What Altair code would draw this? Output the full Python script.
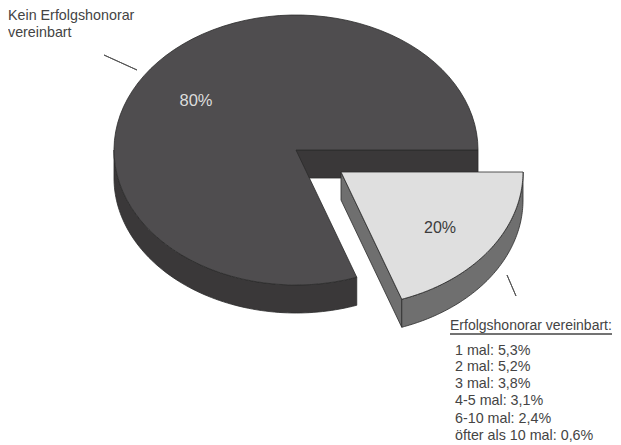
import numpy as np
import pandas as pd
import altair as alt

# data
shares = [80, 20]
pct_labels = ["80%", "20%"]
main_label = ["Kein Erfolgshonorar", "vereinbart"]
detail_title = "Erfolgshonorar vereinbart:"
detail_labels = ["1 mal: 5,3%", "2 mal: 5,2%", "3 mal: 3,8%", "4-5 mal: 3,1%",
                 "6-10 mal: 2,4%", "öfter als 10 mal: 0,6%"]

W, H = 605, 437
OFF = 8
cx, cy, rx, ry, depth = 296 - OFF, 150 - OFF, 182, 135, 28
ex, ey = 45, 22  # explode offset
FONT = "Liberation Sans"

x_scale = alt.Scale(domain=[0, W], nice=False, zero=False)
y_scale = alt.Scale(domain=[H, 0], nice=False, zero=False)

# the 3D projection squeezes the slice's sweep slightly
cut = np.radians(shares[1] / sum(shares) * 360 - 1.5)


def arc(t0, t1, dx=0, dy=0, n=80):
    t = np.linspace(t0, t1, n)
    return list(zip(cx + dx + rx * np.cos(t), cy + dy + ry * np.sin(t)))


def poly(points, fill, stroke="#2b2b2b", sw=0.8):
    pts = list(points) + [points[0]]
    df = pd.DataFrame({"x": [p[0] for p in pts], "y": [p[1] for p in pts],
                       "o": range(len(pts))})
    return alt.Chart(df).mark_line(fill=fill, stroke=stroke, strokeWidth=sw, interpolate="linear").encode(
        x=alt.X("x:Q", scale=x_scale, axis=None),
        y=alt.Y("y:Q", scale=y_scale, axis=None),
        order=alt.Order("o:Q"),
    )


def txt(s, x, y, size=14.3, color="#444444", align="left"):
    return alt.Chart(pd.DataFrame({"t": [s]})).mark_text(
        font=FONT, fontSize=size, color=color, align=align, baseline="middle"
    ).encode(x=alt.value(x - OFF), y=alt.value(y - OFF), text="t:N")


def seg(x0, y0, x1, y1, color="#555555"):
    return poly([(x0 - OFF, y0 - OFF), (x1 - OFF, y1 - OFF)], "transparent", color, 1)


MAIN_TOP, MAIN_SIDE = "#4f4d4f", "#3a3839"
W_TOP, W_SIDE = "#dfdfdf", "#6f6f6f"

layers = []
# main pie: inner wall, outer side, top
layers.append(poly([(cx, cy), (cx + rx, cy), (cx + rx, cy + depth), (cx, cy + depth)], MAIN_SIDE))
layers.append(poly(arc(cut, np.pi) + arc(np.pi, cut, 0, depth), MAIN_SIDE))
layers.append(poly([(cx, cy)] + arc(cut, 2 * np.pi), MAIN_TOP))
# exploded wedge: cut wall, outer side, top
tip = arc(cut, cut, ex, ey, 1)[0]
apex = (cx + ex, cy + ey)
layers.append(poly([apex, tip, (tip[0], tip[1] + depth), (apex[0], apex[1] + depth)], W_SIDE))
layers.append(poly(arc(0, cut, ex, ey) + arc(cut, 0, ex, ey + depth), W_SIDE))
layers.append(poly([apex] + arc(0, cut, ex, ey), W_TOP))
# leaders
layers.append(seg(104, 55, 137, 70))
layers.append(seg(507, 275, 516, 296))
layers.append(seg(450, 334, 612, 334, "#444444"))
# text
layers.append(txt(pct_labels[0], 196, 101, 16.5, "#dddddd", "center"))
layers.append(txt(pct_labels[1], 440, 228, 16, "#3c3c3c", "center"))
layers.append(txt(main_label[0], 8, 16))
layers.append(txt(main_label[1], 8, 33))
layers.append(txt(detail_title, 450, 326, 14))
for i, (s, y) in enumerate(zip(detail_labels, [351, 367, 384, 401, 419, 436])):
    layers.append(txt(s, 455, y))

chart = alt.layer(*layers).properties(
    width=W, height=H, padding=0, autosize=alt.AutoSizeParams(type="none"), background="white"
).configure_view(stroke=None)
chart.save("out.html", embed_options={"renderer": "svg", "actions": False})
